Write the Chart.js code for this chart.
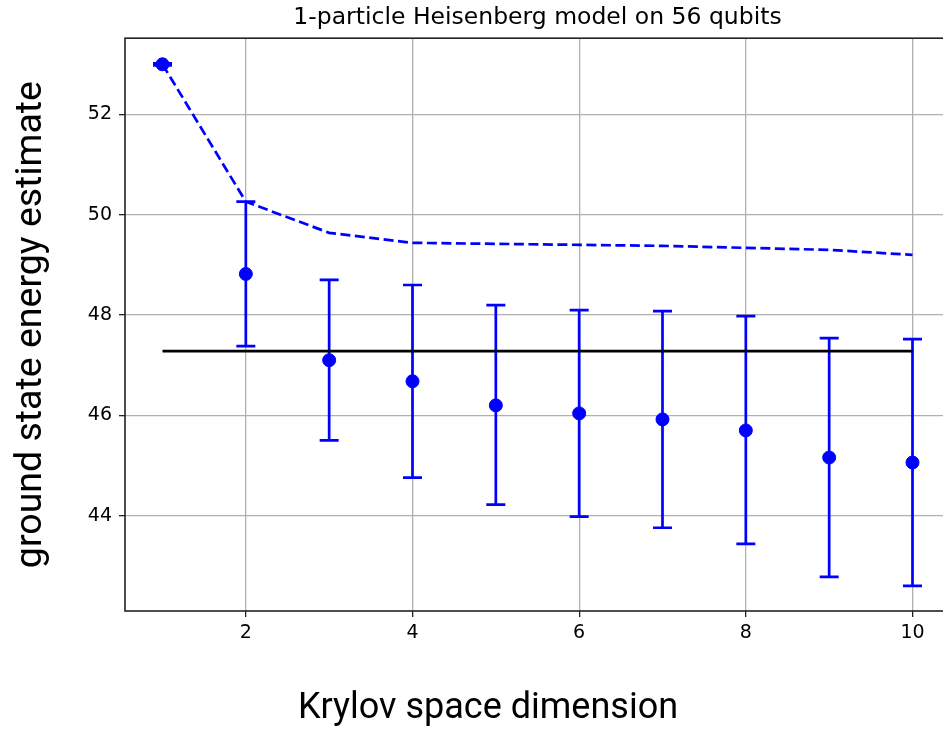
<!DOCTYPE html>
<html>
<head>
<meta charset="utf-8">
<script src="https://cdn.jsdelivr.net/npm/chart.js@4.4.1/dist/chart.umd.min.js"></script>
<style>
  html, body { margin: 0; padding: 0; background: #fff; overflow: hidden; }
  #wrap { width: 960px; height: 732px; }
</style>
</head>
<body>
<div id="wrap"><canvas id="chartKrylov" width="960" height="732"></canvas></div>
<script>
// values
const dims = [1, 2, 3, 4, 5, 6, 7, 8, 9, 10];
const estimate = [53.0, 48.82, 47.1, 46.68, 46.2, 46.04, 45.92, 45.7, 45.16, 45.06];
const errLow = [52.98, 47.38, 45.5, 44.76, 44.22, 43.98, 43.76, 43.44, 42.78, 42.6];
const errHigh = [53.02, 50.26, 48.7, 48.6, 48.2, 48.1, 48.08, 47.98, 47.54, 47.52];
const variational = [53.0, 50.26, 49.64, 49.44, 49.42, 49.4, 49.38, 49.34, 49.3, 49.2];
const exactX = [1, 10];
const exactE = [47.28, 47.28];
const xTicks = [2, 4, 6, 8, 10];
const yTicks = [44, 46, 48, 50, 52];

const blue = '#0000ff';
const tickFont = { family: "'DejaVu Sans', sans-serif", size: 19 };
const labelFont = "Roboto, 'Noto Sans', sans-serif";

// error bars drawn through the chart scales
const errorBars = {
  id: 'errorBars',
  beforeDatasetsDraw(chart) {
    const { ctx, scales: { x, y } } = chart;
    ctx.save();
    ctx.strokeStyle = blue;
    ctx.lineWidth = 2.7;
    dims.forEach((d, i) => {
      const px = x.getPixelForValue(d);
      const lo = y.getPixelForValue(errLow[i]);
      const hi = y.getPixelForValue(errHigh[i]);
      ctx.beginPath();
      ctx.moveTo(px, lo); ctx.lineTo(px, hi);
      ctx.moveTo(px - 9.5, lo); ctx.lineTo(px + 9.5, lo);
      ctx.moveTo(px - 9.5, hi); ctx.lineTo(px + 9.5, hi);
      ctx.stroke();
    });
    ctx.restore();
  }
};

// full axes frame + figure-level x label
const frame = {
  id: 'frame',
  afterDraw(chart) {
    const { ctx, chartArea: a } = chart;
    ctx.save();
    ctx.strokeStyle = '#222';
    ctx.lineWidth = 1.6;
    ctx.strokeRect(a.left, a.top, a.right - a.left, a.bottom - a.top);
    ctx.fillStyle = '#000';
    ctx.font = '36px ' + labelFont;
    ctx.textAlign = 'center';
    ctx.textBaseline = 'middle';
    ctx.fillText('Krylov space dimension', 488, 709);
    ctx.restore();
  }
};

new Chart(document.getElementById('chartKrylov'), {
  type: 'scatter',
  data: {
    datasets: [
      {
        type: 'line',
        data: dims.map((d, i) => ({ x: d, y: variational[i] })),
        borderColor: blue,
        borderWidth: 2.7,
        borderDash: [10, 4.5],
        pointRadius: 0,
        fill: false,
        tension: 0
      },
      {
        type: 'line',
        data: exactX.map((d, i) => ({ x: d, y: exactE[i] })),
        borderColor: '#000',
        borderWidth: 2.7,
        pointRadius: 0,
        fill: false
      },
      {
        data: dims.map((d, i) => ({ x: d, y: estimate[i] })),
        backgroundColor: blue,
        borderColor: blue,
        pointRadius: 6.5,
        pointHoverRadius: 6.5
      }
    ]
  },
  options: {
    responsive: false,
    animation: false,
    layout: { padding: { left: 0, right: 10, top: 0, bottom: 0 } },
    plugins: {
      legend: { display: false },
      tooltip: { enabled: false },
      title: {
        display: true,
        fullSize: false,
        text: '1-particle Heisenberg model on 56 qubits',
        color: '#000',
        font: { family: "'DejaVu Sans', sans-serif", size: 23.5, weight: 'normal' },
        padding: { top: 4, bottom: 6 }
      }
    },
    scales: {
      x: {
        type: 'linear',
        min: 0.55,
        max: 10.45,
        afterBuildTicks: s => { s.ticks = xTicks.map(v => ({ value: v })); },
        afterFit: s => { s.height = 121; },
        grid: { color: '#b0b0b0', lineWidth: 1.3, tickColor: '#222', tickLength: 6 },
        border: { display: false },
        ticks: { color: '#000', font: tickFont, padding: 5, maxRotation: 0 }
      },
      y: {
        type: 'linear',
        min: 42.1,
        max: 53.52,
        afterBuildTicks: s => { s.ticks = yTicks.map(v => ({ value: v })); },
        afterFit: s => { s.width = 125; },
        grid: { color: '#b0b0b0', lineWidth: 1.3, tickColor: '#222', tickLength: 6 },
        border: { display: false },
        ticks: { color: '#000', font: tickFont, padding: 7 },
        title: {
          display: true,
          text: 'ground state energy estimate',
          color: '#000',
          font: { family: labelFont, size: 37.5 },
          padding: { top: 9, bottom: 0 }
        }
      }
    }
  },
  plugins: [errorBars, frame]
});
</script>
</body>
</html>
